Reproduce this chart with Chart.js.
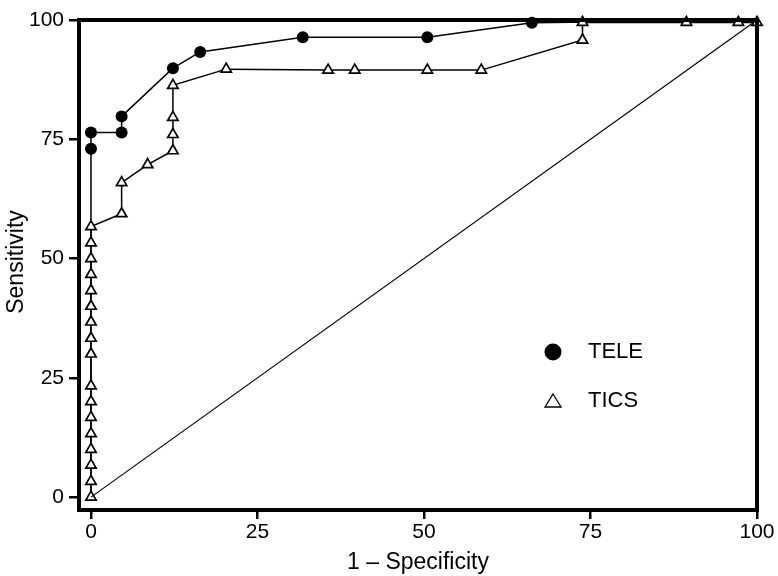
<!DOCTYPE html>
<html>
<head>
<meta charset="utf-8">
<script src="https://cdn.jsdelivr.net/npm/chart.js@4/dist/chart.umd.min.js"></script>
<style>
  body { margin: 0; background: #fff; }
  canvas { display: block; }
</style>
</head>
<body>
<canvas id="rocChart" width="778" height="576"></canvas>
<script>
    // values (1 - specificity, sensitivity), in %
    var teleX = [0, 0, 0, 4.6, 4.6, 12.3, 16.4, 31.8, 50.5, 66.2, 100];
    var teleY = [0, 73.0, 76.4, 76.4, 79.8, 89.9, 93.3, 96.4, 96.4, 99.4, 100];
    var ticsX = [0, 0, 0, 0, 0, 0, 0, 0, 0, 0, 0, 0, 0, 0, 0, 0, 0,
      4.6, 4.6, 8.5, 12.3, 12.3, 12.3, 12.3, 20.3, 35.6, 39.6, 50.5, 58.6, 73.8, 73.8, 89.4, 97.2, 100];
    var ticsY = [0, 3.3, 6.7, 10, 13.3, 16.7, 20, 23.3, 30, 33.3, 36.7, 40, 43.3, 46.7, 50, 53.3, 56.7,
      59.4, 65.9, 69.7, 72.6, 76, 79.6, 86.3, 89.7, 89.5, 89.5, 89.5, 89.5, 95.8, 99.5, 99.5, 99.5, 99.5];
    var chanceX = [0, 100];
    var chanceY = [0, 100];
    var xTicks = [0, 25, 50, 75, 100];
    var yTicks = [0, 25, 50, 75, 100];
    var seriesNames = ['TELE', 'TICS'];
    var yTitle = 'Sensitivity';

    function toPoints(xs, ys) {
      return xs.map(function (x, i) { return { x: x, y: ys[i] }; });
    }

    Chart.defaults.font.family = '"Liberation Sans", Arial, sans-serif';
    Chart.defaults.color = '#000';

    // thick frame round the plot area
    var framePlugin = {
      id: 'frame',
      afterDatasetsDraw: function (chart) {
        var a = chart.chartArea, ctx = chart.ctx;
        ctx.save();
        ctx.strokeStyle = '#000';
        ctx.lineWidth = 4;
        ctx.strokeRect(a.left, a.top, a.right - a.left, a.bottom - a.top);
        ctx.restore();
      }
    };

    // key inside the plot, bottom right, and the y title
    var keyPlugin = {
      id: 'key',
      afterDraw: function (chart) {
        var a = chart.chartArea, ctx = chart.ctx;
        var mx = a.left + 474, tx = a.left + 509;
        var rows = [a.top + 332, a.top + 381];
        ctx.save();
        ctx.fillStyle = '#000';
        ctx.strokeStyle = '#000';
        ctx.lineWidth = 1.3;
        ctx.beginPath();
        ctx.arc(mx, rows[0], 8.5, 0, Math.PI * 2);
        ctx.fill();
        ctx.beginPath();
        ctx.moveTo(mx, rows[1] - 7);
        ctx.lineTo(mx + 8, rows[1] + 6);
        ctx.lineTo(mx - 8, rows[1] + 6);
        ctx.closePath();
        ctx.stroke();
        ctx.font = '22px "Liberation Sans", Arial, sans-serif';
        ctx.textBaseline = 'middle';
        ctx.textAlign = 'left';
        ctx.fillText(seriesNames[0], tx, rows[0]);
        ctx.fillText(seriesNames[1], tx, rows[1]);

        ctx.translate(17, 262);
        ctx.rotate(-Math.PI / 2);
        ctx.font = '23px "Liberation Sans", Arial, sans-serif';
        ctx.textAlign = 'center';
        ctx.fillText(yTitle, 0, 0);
        ctx.restore();
      }
    };

    var teleRadius = teleX.map(function (v, i) { return (i === 0 || i === teleX.length - 1) ? 0 : 6; });

    var ctx = document.getElementById('rocChart');
    var rocChart = new Chart(ctx, {
      type: 'scatter',
      data: {
        datasets: [{
          label: 'chance',
          data: toPoints(chanceX, chanceY),
          showLine: true,
          borderColor: '#000',
          borderWidth: 1.2,
          pointRadius: 0,
          clip: false
        }, {
          label: seriesNames[1],
          data: toPoints(ticsX, ticsY),
          showLine: true,
          borderColor: '#000',
          borderWidth: 1.5,
          pointStyle: 'triangle',
          pointRadius: 6,
          pointBackgroundColor: '#fff',
          pointBorderColor: '#000',
          pointBorderWidth: 1.7,
          clip: false
        }, {
          label: seriesNames[0],
          data: toPoints(teleX, teleY),
          showLine: true,
          borderColor: '#000',
          borderWidth: 1.5,
          pointStyle: 'circle',
          pointRadius: teleRadius,
          pointBackgroundColor: '#000',
          pointBorderColor: '#000',
          pointBorderWidth: 0,
          clip: false
        }]
      },
      options: {
        responsive: false,
        animation: false,
        layout: { padding: { top: 20, right: 21, left: 0, bottom: 0 } },
        plugins: {
          legend: { display: false },
          tooltip: { enabled: false }
        },
        scales: {
          x: {
            type: 'linear',
            min: -1.8,
            max: 100,
            afterFit: function (s) { s.height = 66; },
            afterBuildTicks: function (s) { s.ticks = xTicks.map(function (v) { return { value: v }; }); },
            grid: { drawOnChartArea: false, drawTicks: true, tickLength: 9, tickColor: '#000', lineWidth: 2.5 },
            border: { display: false },
            ticks: { font: { size: 21 }, padding: 1, maxRotation: 0 },
            title: { display: true, text: '1 – Specificity', font: { size: 23 }, padding: { top: 0, bottom: 0 } }
          },
          y: {
            type: 'linear',
            min: -2.7,
            max: 100,
            afterFit: function (s) { s.width = 79; },
            afterBuildTicks: function (s) { s.ticks = yTicks.map(function (v) { return { value: v }; }); },
            grid: { drawOnChartArea: false, drawTicks: true, tickLength: 10, tickColor: '#000', lineWidth: 2.5 },
            border: { display: false },
            ticks: { font: { size: 21 }, padding: 5 }
          }
        }
      },
      plugins: [framePlugin, keyPlugin]
    });
</script>
</body>
</html>
